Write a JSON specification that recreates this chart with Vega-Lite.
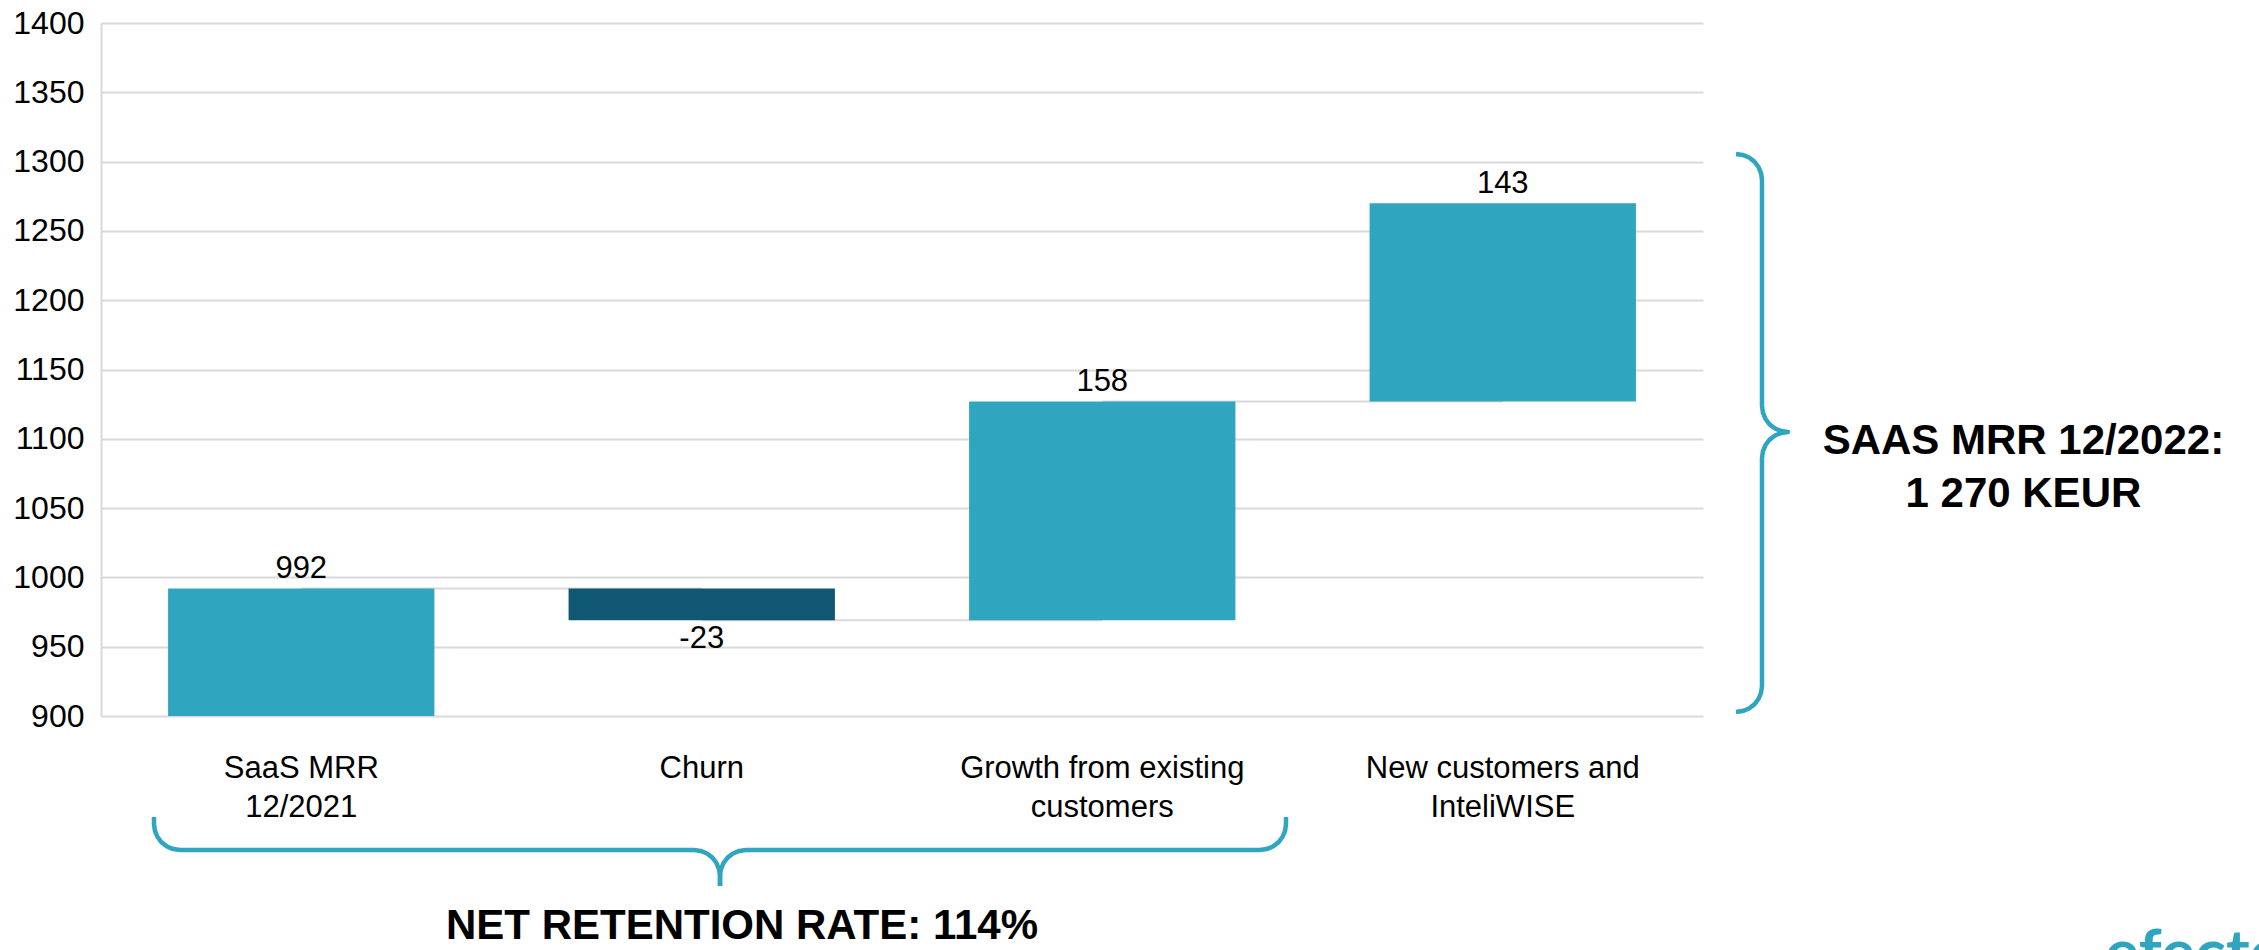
{
  "$schema": "https://vega.github.io/schema/vega-lite/v6.json",
  "width": 1602,
  "height": 693,
  "autosize": {"type": "none"},
  "padding": {"left": 101, "top": 23, "right": 556, "bottom": 234},
  "background": "white",
  "config": {
    "view": {"stroke": null},
    "font": "Liberation Sans",
    "axisY": {"grid": true, "gridColor": "#d9d9d9", "gridWidth": 2, "domain": true, "domainColor": "#d9d9d9", "domainWidth": 2, "ticks": false, "labelFontSize": 32, "labelColor": "#000000", "labelPadding": 17, "format": "d"},
    "axisX": {"grid": false, "domain": false, "ticks": false, "labelFontSize": 31, "labelColor": "#000000", "labelPadding": 37, "labelLineHeight": 39, "labelAngle": 0, "labelLimit": 0}
  },
  "resolve": {"scale": {"x": "independent", "y": "independent"}},
  "layer": [
    {
      "data": {"values": [
        {"cat": "SaaS MRR|12/2021", "next": "Churn", "start": 0, "end": 992, "amount": 992, "label": "992", "kind": "total"},
        {"cat": "Churn", "next": "Growth from existing|customers", "start": 992, "end": 969, "amount": -23, "label": "-23", "kind": "decrease"},
        {"cat": "Growth from existing|customers", "next": "New customers and|InteliWISE", "start": 969, "end": 1127, "amount": 158, "label": "158", "kind": "increase"},
        {"cat": "New customers and|InteliWISE", "next": null, "start": 1127, "end": 1270, "amount": 143, "label": "143", "kind": "increase"}
      ]},
      "encoding": {
        "x": {"field": "cat", "type": "nominal", "sort": null, "title": null,
              "scale": {"domain": ["SaaS MRR|12/2021", "Churn", "Growth from existing|customers", "New customers and|InteliWISE"], "paddingInner": 0.335, "paddingOuter": 0.1675},
              "axis": {"labelExpr": "split(datum.value, '|')"}}
      },
      "layer": [
        {
          "transform": [{"filter": "datum.next != null"}],
          "mark": {"type": "rule", "color": "#d9d9d9", "strokeWidth": 2},
          "encoding": {
            "x": {"field": "cat", "type": "nominal", "bandPosition": 0.5, "title": null, "axis": {"labelExpr": "split(datum.value, '|')"}},
            "x2": {"field": "next", "bandPosition": 0.5},
            "y": {"field": "end", "type": "quantitative", "title": null, "scale": {"domain": [900, 1400], "nice": false, "zero": false}, "axis": {"values": [900, 950, 1000, 1050, 1100, 1150, 1200, 1250, 1300, 1350, 1400]}}
          }
        },
        {
          "mark": {"type": "bar", "clip": true},
          "encoding": {
            "y": {"field": "start", "type": "quantitative", "title": null, "scale": {"domain": [900, 1400], "nice": false, "zero": false}, "axis": {"values": [900, 950, 1000, 1050, 1100, 1150, 1200, 1250, 1300, 1350, 1400]}},
            "y2": {"field": "end"},
            "color": {"field": "kind", "type": "nominal", "scale": {"domain": ["total", "increase", "decrease"], "range": ["#30A5BF", "#30A5BF", "#0F5773"]}, "legend": null}
          }
        },
        {
          "transform": [{"filter": "datum.amount >= 0"}],
          "mark": {"type": "text", "baseline": "bottom", "dy": -3, "fontSize": 31, "color": "#000000"},
          "encoding": {
            "y": {"field": "end", "type": "quantitative", "title": null, "scale": {"domain": [900, 1400], "nice": false, "zero": false}, "axis": {"values": [900, 950, 1000, 1050, 1100, 1150, 1200, 1250, 1300, 1350, 1400]}},
            "text": {"field": "label", "type": "nominal"}
          }
        },
        {
          "transform": [{"filter": "datum.amount < 0"}],
          "mark": {"type": "text", "baseline": "top", "dy": 4, "fontSize": 31, "color": "#000000"},
          "encoding": {
            "y": {"field": "end", "type": "quantitative", "title": null, "scale": {"domain": [900, 1400], "nice": false, "zero": false}, "axis": {"values": [900, 950, 1000, 1050, 1100, 1150, 1200, 1250, 1300, 1350, 1400]}},
            "text": {"field": "label", "type": "nominal"}
          }
        }
      ]
    },
    {
      "encoding": {
        "x": {"field": "x", "type": "quantitative", "scale": {"domain": [0, 4], "nice": false, "zero": false}, "axis": null},
        "y": {"field": "y", "type": "quantitative", "scale": {"domain": [900, 1400], "nice": false, "zero": false}, "axis": null}
      },
      "layer": [
        {
          "data": {"values": [
            {"part": "r", "seq": 1, "x": 4.0824, "y": 1305.48},
            {"part": "r", "seq": 2, "x": 4.0991, "y": 1304.83},
            {"part": "r", "seq": 3, "x": 4.1149, "y": 1302.96},
            {"part": "r", "seq": 4, "x": 4.1283, "y": 1300.00},
            {"part": "r", "seq": 5, "x": 4.1386, "y": 1296.10},
            {"part": "r", "seq": 6, "x": 4.1451, "y": 1291.56},
            {"part": "r", "seq": 7, "x": 4.1473, "y": 1286.72},
            {"part": "r", "seq": 8, "x": 4.1473, "y": 1123.67},
            {"part": "r", "seq": 9, "x": 4.1496, "y": 1118.83},
            {"part": "r", "seq": 10, "x": 4.1561, "y": 1114.29},
            {"part": "r", "seq": 11, "x": 4.1663, "y": 1110.39},
            {"part": "r", "seq": 12, "x": 4.1798, "y": 1107.43},
            {"part": "r", "seq": 13, "x": 4.1955, "y": 1105.56},
            {"part": "r", "seq": 14, "x": 4.2122, "y": 1104.91},
            {"part": "r", "seq": 15, "x": 4.1955, "y": 1104.26},
            {"part": "r", "seq": 16, "x": 4.1798, "y": 1102.38},
            {"part": "r", "seq": 17, "x": 4.1663, "y": 1099.42},
            {"part": "r", "seq": 18, "x": 4.1561, "y": 1095.53},
            {"part": "r", "seq": 19, "x": 4.1496, "y": 1090.98},
            {"part": "r", "seq": 20, "x": 4.1473, "y": 1086.15},
            {"part": "r", "seq": 21, "x": 4.1473, "y": 921.65},
            {"part": "r", "seq": 22, "x": 4.1451, "y": 916.81},
            {"part": "r", "seq": 23, "x": 4.1386, "y": 912.27},
            {"part": "r", "seq": 24, "x": 4.1283, "y": 908.37},
            {"part": "r", "seq": 25, "x": 4.1149, "y": 905.41},
            {"part": "r", "seq": 26, "x": 4.0991, "y": 903.54},
            {"part": "r", "seq": 27, "x": 4.0824, "y": 902.89},
            {"part": "bl", "seq": 1, "x": 0.1323, "y": 827.13},
            {"part": "bl", "seq": 2, "x": 0.1323, "y": 822.08},
            {"part": "bl", "seq": 3, "x": 0.1346, "y": 817.24},
            {"part": "bl", "seq": 4, "x": 0.1411, "y": 812.70},
            {"part": "bl", "seq": 5, "x": 0.1513, "y": 808.80},
            {"part": "bl", "seq": 6, "x": 0.1648, "y": 805.84},
            {"part": "bl", "seq": 7, "x": 0.1805, "y": 803.97},
            {"part": "bl", "seq": 8, "x": 0.1973, "y": 803.32},
            {"part": "bl", "seq": 9, "x": 1.4807, "y": 803.32},
            {"part": "bl", "seq": 10, "x": 1.4974, "y": 802.67},
            {"part": "bl", "seq": 11, "x": 1.5131, "y": 800.79},
            {"part": "bl", "seq": 12, "x": 1.5266, "y": 797.84},
            {"part": "bl", "seq": 13, "x": 1.5368, "y": 793.94},
            {"part": "bl", "seq": 14, "x": 1.5433, "y": 789.39},
            {"part": "bl", "seq": 15, "x": 1.5456, "y": 784.56},
            {"part": "bl", "seq": 16, "x": 1.5456, "y": 777.35},
            {"part": "br", "seq": 1, "x": 1.5456, "y": 777.35},
            {"part": "br", "seq": 2, "x": 1.5456, "y": 784.56},
            {"part": "br", "seq": 3, "x": 1.5478, "y": 789.39},
            {"part": "br", "seq": 4, "x": 1.5543, "y": 793.94},
            {"part": "br", "seq": 5, "x": 1.5646, "y": 797.84},
            {"part": "br", "seq": 6, "x": 1.5780, "y": 800.79},
            {"part": "br", "seq": 7, "x": 1.5938, "y": 802.67},
            {"part": "br", "seq": 8, "x": 1.6105, "y": 803.32},
            {"part": "br", "seq": 9, "x": 2.8939, "y": 803.32},
            {"part": "br", "seq": 10, "x": 2.9106, "y": 803.97},
            {"part": "br", "seq": 11, "x": 2.9263, "y": 805.84},
            {"part": "br", "seq": 12, "x": 2.9398, "y": 808.80},
            {"part": "br", "seq": 13, "x": 2.9501, "y": 812.70},
            {"part": "br", "seq": 14, "x": 2.9566, "y": 817.24},
            {"part": "br", "seq": 15, "x": 2.9588, "y": 822.08},
            {"part": "br", "seq": 16, "x": 2.9588, "y": 827.13}
          ]},
          "mark": {"type": "line", "color": "#30A5BF", "strokeWidth": 4.5, "strokeCap": "butt", "strokeJoin": "round", "clip": false},
          "encoding": {
            "detail": {"field": "part", "type": "nominal"},
            "order": {"field": "seq", "type": "quantitative"}
          }
        },
        {
          "data": {"values": [
            {"x": 4.80, "y": 1098.4, "t": "SAAS MRR 12/2022:"},
            {"x": 4.80, "y": 1060.2, "t": "1 270 KEUR"}
          ]},
          "mark": {"type": "text", "fontWeight": "bold", "fontSize": 42, "align": "center", "baseline": "middle", "color": "#000000", "clip": false},
          "encoding": {"text": {"field": "t", "type": "nominal"}}
        },
        {
          "data": {"values": [
            {"x": 1.6005, "y": 732.6, "t": "NET RETENTION RATE: 114%"}
          ]},
          "mark": {"type": "text", "fontWeight": "bold", "fontSize": 42, "align": "center", "baseline": "bottom", "color": "#000000", "clip": false},
          "encoding": {"text": {"field": "t", "type": "nominal"}}
        },
        {
          "data": {"values": [
            {"x": 5.004, "y": 713.1, "t": "efecte"}
          ]},
          "mark": {"type": "text", "font": "Lato", "fontWeight": "bold", "fontSize": 64, "align": "left", "baseline": "alphabetic", "color": "#30A5BF", "clip": false},
          "encoding": {"text": {"field": "t", "type": "nominal"}}
        }
      ]
    }
  ]
}
